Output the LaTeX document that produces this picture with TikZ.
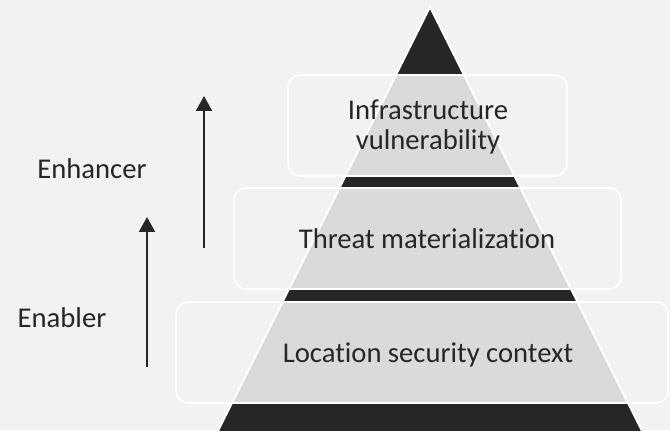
\documentclass[tikz,border=0pt]{standalone}
\usepackage{fontspec}
\setmainfont{Carlito}[Ligatures={NoCommon}]
\usetikzlibrary{arrows.meta, positioning}
\definecolor{PyBack}{RGB}{242,242,242}
\definecolor{PyDark}{RGB}{38,38,38}
\definecolor{PyLight}{RGB}{218,218,218}

\begin{document}
\begin{tikzpicture}[x=0.02cm, y=-0.02cm,
    tierbox/.style={draw=white, line width=0.9pt, rounded corners=6.8pt},
    tiertext/.style={font=\fontsize{16.3}{17}\selectfont, text=PyDark, align=center},
    side/.style={font=\fontsize{16.3}{17}\selectfont, text=PyDark, anchor=base},
    rise/.style={PyDark, line width=1.4pt, -{Triangle[length=8.5pt, width=9pt]}}]
  \fill[PyBack] (0,0) rectangle (670,430);
  \useasboundingbox (0,0) rectangle (670,430);
  \clip (0,0) rectangle (670,430);
  % pyramid, dark with light tiers
  \fill[PyDark] (430,7) -- (648,443) -- (212,443) -- cycle;
  \begin{scope}
    \clip (430,7) -- (648,443) -- (212,443) -- cycle;
    \foreach \top/\bot in {75/176, 188/289, 302/403}
      \fill[PyLight] (0,\top) rectangle (670,\bot);
  \end{scope}
  \draw[white, line width=1.1pt] (648,443) -- (430,7) -- (212,443);
  % tier boxes
  \draw[tierbox] (288,75) rectangle (567,176);
  \draw[tierbox] (234,188) rectangle (621,289);
  \draw[tierbox] (176,302) rectangle (668,403);
  \node[tiertext] (infra) at (428,127) {Infrastructure\\vulnerability};
  \node[tiertext, anchor=base] (threat) at (427,248) {Threat materialization};
  \node[tiertext, anchor=base] (location) at (428,362) {Location security context};
  % side arrows and labels
  \coordinate (enablerfoot) at (147,367);
  \coordinate (enablertip) at (147,217);
  \coordinate (enhancerfoot) at (204,248);
  \coordinate (enhancertip) at (204,96);
  \draw[rise] (enablerfoot) -- (enablertip);
  \draw[rise] (enhancerfoot) -- (enhancertip);
  \node[side] (enabler) at (62,327) {Enabler};
  \node[side] (enhancer) at (92,178) {Enhancer};
\end{tikzpicture}
\end{document}
